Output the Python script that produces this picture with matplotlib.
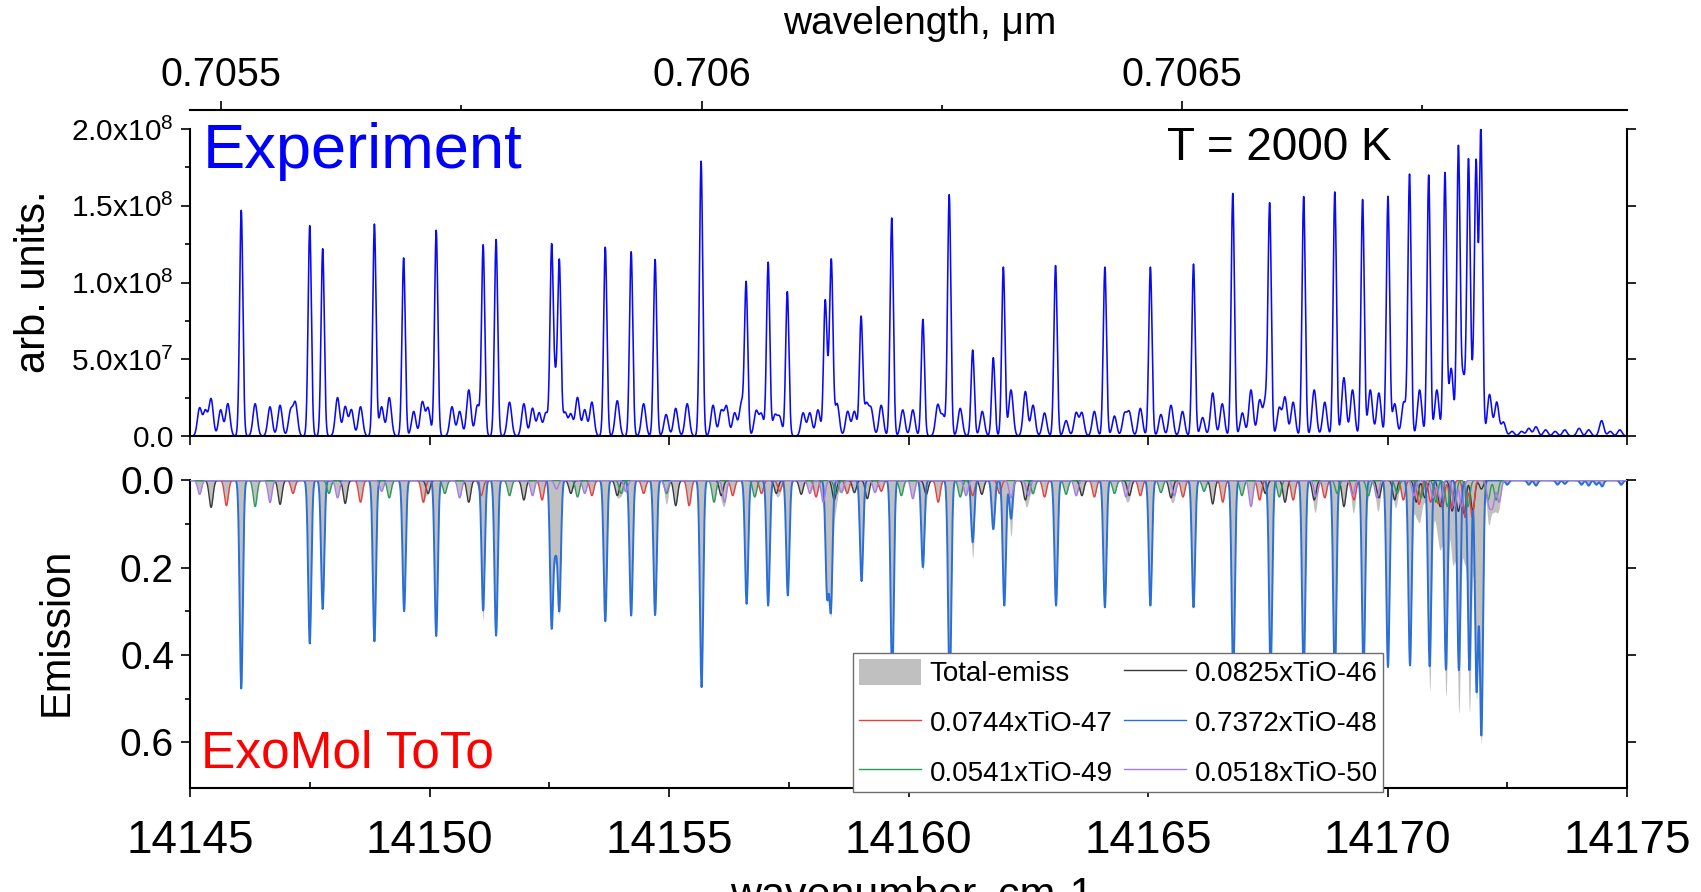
import numpy as np
import matplotlib
matplotlib.use('Agg')
import matplotlib.pyplot as plt
from matplotlib.ticker import MultipleLocator, FixedLocator
from matplotlib.patches import Patch
from matplotlib.lines import Line2D

plt.rcParams['font.family'] = ['Liberation Sans', 'DejaVu Sans']
plt.rcParams['mathtext.fontset'] = 'custom'
plt.rcParams['mathtext.rm'] = 'Liberation Sans'
plt.rcParams['mathtext.default'] = 'regular'

# ---------------- data ----------------
# Experiment: strong lines (wavenumber cm-1, intensity in 1e8 arb. units)
exp_major_pos = [14146.07, 14147.50, 14147.77, 14148.85, 14149.46, 14150.14, 14151.12, 14151.39,
                 14152.55, 14152.63, 14152.71, 14153.67, 14154.21, 14154.71, 14155.67, 14156.61,
                 14157.07, 14157.47, 14158.26, 14158.33, 14158.39, 14159.01, 14159.65, 14160.30,
                 14160.85, 14161.34, 14161.77, 14161.98, 14163.07, 14164.10, 14165.05, 14165.95,
                 14166.77, 14167.54, 14168.25, 14168.90, 14169.48, 14170.01, 14170.46, 14170.86,
                 14171.20, 14171.48, 14171.69, 14171.85, 14171.95]
exp_major_int = [1.47, 1.37, 1.22, 1.38, 1.16, 1.34, 1.24, 1.28,
                 1.23, 0.30, 1.13, 1.23, 1.20, 1.15, 1.79, 0.99,
                 1.13, 0.94, 0.86, 0.22, 1.10, 0.77, 1.42, 0.76,
                 1.57, 0.56, 0.51, 1.10, 1.11, 1.10, 1.10, 1.12,
                 1.58, 1.49, 1.56, 1.59, 1.54, 1.56, 1.70, 1.70,
                 1.71, 1.86, 1.73, 1.72, 1.99]
# Experiment: weak lines
exp_weak_pos = [14145.20, 14145.32, 14145.44, 14145.64, 14145.79, 14146.36, 14146.67, 14146.88,
                14147.10, 14147.20, 14148.08, 14148.24, 14148.37, 14148.56, 14149.00, 14149.16,
                14149.67, 14149.85, 14149.97, 14150.47, 14150.63, 14150.82, 14151.00, 14151.67,
                14151.97, 14152.15, 14152.29, 14152.43, 14152.83, 14152.95, 14153.09, 14153.24,
                14153.39, 14153.92, 14154.47, 14154.94, 14155.14, 14155.38,
                14155.92, 14156.09, 14156.20, 14156.37, 14156.51, 14156.82, 14156.93, 14157.21,
                14157.31, 14157.80, 14157.94, 14158.11, 14158.51, 14158.73, 14158.87, 14159.12,
                14159.22, 14159.43, 14159.88, 14160.09, 14160.61, 14160.72, 14161.08, 14161.54,
                14162.14, 14162.44, 14162.60, 14162.84, 14163.29, 14163.50, 14163.62, 14163.88,
                14164.30, 14164.51, 14164.61, 14164.84, 14165.27, 14165.48, 14165.72,
                14166.14, 14166.35, 14166.55, 14166.97, 14167.15, 14167.33, 14167.45, 14167.74,
                14167.86, 14168.03, 14168.47, 14168.69, 14169.09, 14169.27, 14169.64, 14169.82,
                14170.15, 14170.34, 14170.67, 14171.03, 14171.33, 14171.58, 14171.77, 14172.13,
                14172.28, 14172.42,
                14172.60, 14172.80, 14172.95, 14173.10, 14173.30, 14173.50, 14173.70, 14174.00,
                14174.20, 14174.47, 14174.65, 14174.85]
exp_weak_int = [0.18, 0.16, 0.24, 0.17, 0.21, 0.21, 0.19, 0.20,
                0.16, 0.21, 0.25, 0.19, 0.17, 0.19, 0.19, 0.25,
                0.16, 0.22, 0.18, 0.19, 0.16, 0.30, 0.20, 0.22,
                0.21, 0.18, 0.15, 0.15, 0.15, 0.14, 0.25, 0.17,
                0.22, 0.23, 0.21, 0.14, 0.18, 0.21,
                0.20, 0.16, 0.19, 0.15, 0.21, 0.16, 0.14, 0.13,
                0.12, 0.15, 0.15, 0.17, 0.21, 0.16, 0.16, 0.20,
                0.17, 0.20, 0.17, 0.17, 0.20, 0.13, 0.18, 0.16,
                0.30, 0.29, 0.20, 0.15, 0.10, 0.15, 0.15, 0.16,
                0.13, 0.14, 0.15, 0.18, 0.14, 0.20, 0.16,
                0.12, 0.28, 0.21, 0.15, 0.30, 0.23, 0.22, 0.18,
                0.25, 0.22, 0.30, 0.22, 0.38, 0.30, 0.30, 0.28,
                0.21, 0.22, 0.30, 0.30, 0.44, 0.38, 0.28, 0.27,
                0.22, 0.09,
                0.03, 0.03, 0.05, 0.06, 0.04, 0.03, 0.04, 0.05,
                0.04, 0.10, 0.03, 0.04]

# ExoMol ToTo simulated emission, line positions and depths per isotopologue
tio48_pos = [14146.07, 14147.50, 14147.77, 14148.85, 14149.47, 14150.14, 14151.12, 14151.39,
             14152.55, 14152.63, 14152.71, 14153.67, 14154.21, 14154.71, 14155.68, 14156.62,
             14157.07, 14157.48, 14158.30, 14158.38, 14159.02, 14159.66, 14160.30, 14160.86,
             14161.34, 14161.77, 14162.00, 14162.14, 14163.08, 14164.10, 14165.05, 14165.95,
             14166.78, 14167.56, 14168.25, 14168.90, 14169.50, 14170.01, 14170.47, 14170.88,
             14171.22, 14171.49, 14171.71, 14171.86, 14171.96,
             14172.50, 14172.95, 14173.10, 14173.55, 14173.70, 14174.05, 14174.20, 14174.36,
             14174.48, 14174.88]
tio48_val = [0.477, 0.374, 0.295, 0.369, 0.300, 0.357, 0.298, 0.356,
             0.333, 0.140, 0.293, 0.323, 0.310, 0.309, 0.474, 0.283,
             0.287, 0.264, 0.256, 0.289, 0.231, 0.460, 0.199, 0.480,
             0.142, 0.112, 0.287, 0.088, 0.287, 0.291, 0.287, 0.291,
             0.450, 0.440, 0.450, 0.460, 0.440, 0.428, 0.424, 0.426,
             0.434, 0.435, 0.435, 0.480, 0.580,
             0.010, 0.010, 0.012, 0.010, 0.008, 0.010, 0.012, 0.010,
             0.014, 0.010]
tio46_pos = [14145.44, 14146.88, 14148.24, 14149.97, 14150.82, 14151.97, 14152.95, 14153.92,
             14155.14, 14156.09, 14157.24, 14157.76, 14158.45, 14158.87, 14159.14, 14160.37,
             14161.53, 14162.44, 14163.62, 14164.61, 14165.48, 14166.35, 14167.45, 14167.86,
             14168.47, 14169.09, 14169.82, 14170.15, 14170.60, 14170.78, 14171.10, 14171.35,
             14171.48, 14171.60, 14171.78, 14171.96]
tio46_val = [0.062, 0.055, 0.053, 0.030, 0.050, 0.045, 0.030, 0.035,
             0.058, 0.035, 0.030, 0.032, 0.045, 0.028, 0.042, 0.032,
             0.032, 0.045, 0.035, 0.035, 0.040, 0.054, 0.030, 0.050,
             0.045, 0.060, 0.040, 0.045, 0.050, 0.040, 0.060, 0.070,
             0.070, 0.075, 0.070, 0.020]
tio47_pos = [14145.76, 14147.15, 14148.56, 14149.87, 14151.08, 14152.35, 14153.39, 14154.47,
             14155.42, 14156.33, 14156.93, 14157.31, 14158.07, 14158.72, 14159.43, 14160.62,
             14161.34, 14161.90, 14162.84, 14163.88, 14164.84, 14165.73, 14166.56, 14167.33,
             14168.03, 14168.69, 14169.30, 14170.33, 14170.66, 14170.90, 14171.05, 14171.15,
             14171.33, 14171.62, 14171.77]
tio47_val = [0.058, 0.030, 0.050, 0.050, 0.035, 0.045, 0.035, 0.030,
             0.058, 0.035, 0.030, 0.025, 0.038, 0.030, 0.025, 0.050,
             0.035, 0.030, 0.038, 0.038, 0.035, 0.038, 0.050, 0.045,
             0.045, 0.040, 0.045, 0.045, 0.055, 0.050, 0.050, 0.060,
             0.065, 0.085, 0.085]
tio49_pos = [14146.36, 14147.90, 14149.16, 14150.32, 14151.67, 14153.09, 14154.00, 14154.95,
             14155.94, 14156.79, 14158.49, 14159.85, 14161.08, 14162.60, 14163.29, 14164.30,
             14165.27, 14166.17, 14166.96, 14167.74, 14168.95, 14169.60, 14170.20, 14170.70,
             14171.01, 14171.25, 14171.40, 14171.68, 14172.10, 14172.27]
tio49_val = [0.060, 0.030, 0.040, 0.030, 0.035, 0.038, 0.030, 0.030,
             0.050, 0.038, 0.032, 0.035, 0.038, 0.030, 0.032, 0.030,
             0.028, 0.025, 0.035, 0.038, 0.030, 0.035, 0.030, 0.040,
             0.050, 0.060, 0.060, 0.060, 0.045, 0.045]
tio50_pos = [14145.20, 14146.67, 14148.08, 14149.00, 14150.63, 14152.15, 14152.65, 14153.24,
             14154.10, 14154.94, 14156.16, 14157.94, 14158.22, 14158.60, 14159.30, 14160.09,
             14161.20, 14162.14, 14162.50, 14163.50, 14164.54, 14165.55, 14167.15, 14168.51,
             14169.27, 14169.78, 14170.55, 14170.95, 14171.10, 14171.40, 14171.55,
             14172.12, 14172.20, 14172.33]
tio50_val = [0.032, 0.051, 0.040, 0.025, 0.040, 0.035, 0.020, 0.030,
             0.025, 0.025, 0.050, 0.030, 0.050, 0.028, 0.028, 0.042,
             0.035, 0.040, 0.035, 0.035, 0.038, 0.035, 0.060, 0.038,
             0.035, 0.040, 0.035, 0.040, 0.045, 0.060, 0.060,
             0.055, 0.055, 0.050]

legend_labels = ['Total-emiss', '0.0825xTiO-46', '0.0744xTiO-47',
                 '0.7372xTiO-48', '0.0541xTiO-49', '0.0518xTiO-50']
x_ticks = [14145, 14150, 14155, 14160, 14165, 14170, 14175]
wl_ticks = [0.7055, 0.7060, 0.7065]
wl_labels = ['0.7055', '0.706', '0.7065']
top_yticks = [0.0, 5.0e7, 1.0e8, 1.5e8, 2.0e8]
top_ylabels = ['0.0', r'$5.0x10^{7}$', r'$1.0x10^{8}$', r'$1.5x10^{8}$', r'$2.0x10^{8}$']
bot_yticks = [0.0, 0.2, 0.4, 0.6]

# ---------------- line profiles ----------------
grid = np.arange(14145.0, 14175.0001, 0.005)


def lines(pos, amp, sig):
    p = np.asarray(pos)[:, None]
    a = np.asarray(amp)[:, None]
    return (a * np.exp(-0.5 * ((grid[None, :] - p) / sig) ** 2)).sum(axis=0)


exp_spec = (lines(exp_major_pos, exp_major_int, 0.034) + lines(exp_weak_pos, exp_weak_int, 0.045)) * 1e8
s46 = lines(tio46_pos, tio46_val, 0.04)
s47 = lines(tio47_pos, tio47_val, 0.04)
s48 = lines(tio48_pos, tio48_val, 0.033)
s49 = lines(tio49_pos, tio49_val, 0.04)
s50 = lines(tio50_pos, tio50_val, 0.04)
total = s46 + s47 + s48 + s49 + s50

# ---------------- figure ----------------
W, H = 1701, 892
fig = plt.figure(figsize=(W / 100, H / 100), dpi=100)
L, R = 190, 1627
ax1 = fig.add_axes([L / W, (H - 436) / H, (R - L) / W, (436 - 129) / H])
ax2 = fig.add_axes([L / W, (H - 787.5) / H, (R - L) / W, (787.5 - 479.5) / H])

SPW = 1.5
MAJ, MIN = 6.5, 3.8

# top panel
ax1.plot(grid, exp_spec, color='#0a0af5', lw=1.15)
ax1.set_xlim(14145, 14175)
ax1.set_ylim(0, 2.0e8)
ax1.spines['top'].set_visible(False)
for s in ['left', 'right', 'bottom']:
    ax1.spines[s].set_linewidth(SPW)
ax1.set_xticks(x_ticks)
ax1.tick_params(axis='x', which='major', bottom=True, top=False, labelbottom=False,
                direction='out', length=MAJ, width=1.2)
ax1.set_yticks(top_yticks)
ax1.set_yticklabels(top_ylabels)
ax1.yaxis.set_minor_locator(MultipleLocator(2.5e7))
ax1.tick_params(axis='y', which='major', left=True, right=True, direction='out',
                length=MAJ, width=1.2, labelsize=21.5, pad=5)
ax1.tick_params(axis='y', which='minor', left=True, right=False, direction='out',
                length=MIN, width=1.2)

a0 = 1e4 / 14175.0
b0 = (1e4 / 14145.0 - 1e4 / 14175.0) / 30.0


def fwd(v):
    return a0 + b0 * (np.asarray(v) - 14145.0)


def inv(w):
    return 14145.0 + (np.asarray(w) - a0) / b0


secax = ax1.secondary_xaxis(1.063, functions=(fwd, inv))
secax.set_xticks(wl_ticks)
secax.set_xticklabels(wl_labels)
secax.xaxis.set_minor_locator(FixedLocator([0.70575, 0.70625, 0.70675]))
secax.tick_params(axis='x', which='major', direction='out', length=MAJ, width=1.2,
                  labelsize=28.5, pad=5)
secax.tick_params(axis='x', which='minor', direction='out', length=MIN, width=1.2)
for sp in secax.spines.values():
    sp.set_linewidth(SPW)

# bottom panel
ax2.fill_between(grid, 0, total, color='#c0c0c0', lw=0, zorder=1)
ax2.plot(grid, s46, color='#3a3a3a', lw=1.0, zorder=2)
ax2.plot(grid, s47, color='#e8403c', lw=1.0, zorder=2)
ax2.plot(grid, s48, color='#2a6fd8', lw=1.4, zorder=3)
ax2.plot(grid, s49, color='#2a9c5a', lw=1.0, zorder=3)
ax2.plot(grid, s50, color='#a77be6', lw=1.0, zorder=3)
ax2.set_xlim(14145, 14175)
ax2.set_ylim(0.704, -0.002)
ax2.spines['top'].set_visible(False)
for s in ['left', 'right', 'bottom']:
    ax2.spines[s].set_linewidth(SPW)
ax2.set_xticks(x_ticks)
ax2.set_xticklabels([str(v) for v in x_ticks])
ax2.xaxis.set_minor_locator(MultipleLocator(2.5))
ax2.tick_params(axis='x', which='major', direction='out', length=MAJ, width=1.2,
                labelsize=33, pad=16, top=False)
ax2.tick_params(axis='x', which='minor', direction='in', length=4.5, width=1.2, top=False)
ax2.set_yticks(bot_yticks)
ax2.set_yticklabels(['%.1f' % v for v in bot_yticks])
ax2.yaxis.set_minor_locator(FixedLocator([0.1, 0.3, 0.5]))
ax2.tick_params(axis='y', which='major', left=True, right=True, direction='out',
                length=MAJ, width=1.2, labelsize=28, pad=5)
ax2.tick_params(axis='y', which='minor', left=True, right=False, direction='out',
                length=MIN, width=1.2)

colors = ['#c0c0c0', '#3a3a3a', '#e8403c', '#2a6fd8', '#2a9c5a', '#a77be6']
h_total = Patch(facecolor=colors[0], edgecolor='none', label=legend_labels[0])
h = [Line2D([], [], color=colors[i], lw=1.0, label=legend_labels[i]) for i in range(1, 6)]
handles = [h_total, h[1], h[3], h[0], h[2], h[4]]
leg = ax2.legend(handles=handles, loc='upper left', bbox_to_anchor=(0.4614, 0.4367),
                 ncol=2, fontsize=20, frameon=True, fancybox=False, edgecolor='#6e6e6e',
                 framealpha=1, borderpad=0.2, labelspacing=0.75, handlelength=2.25,
                 handletextpad=0.3, columnspacing=0.4, handleheight=1.1, borderaxespad=0)
leg.get_frame().set_linewidth(1.0)
leg.set_zorder(10)

# texts
fig.text(203 / W, (H - 168) / H, 'Experiment', color='#0000ff', fontsize=45.5, va='baseline')
fig.text(1167 / W, (H - 160) / H, 'T = 2000 K', color='black', fontsize=33, va='baseline')
fig.text(201 / W, (H - 768) / H, 'ExoMol ToTo', color='#ff0000', fontsize=37, va='baseline')
fig.text(34 / W, (H - 282) / H, 'arb. units.', rotation=90, fontsize=30, ha='center', va='center')
fig.text(57 / W, (H - 632) / H, 'Emission', rotation=90, fontsize=30, ha='center', va='center')
fig.text(920 / W, (H - 24) / H, 'wavelength, μm', fontsize=28, ha='center', va='center')
fig.text(912 / W, (H - 906) / H, 'wavenumber, cm-1', fontsize=31, ha='center', va='baseline')

fig.savefig('out.png', dpi=100)
